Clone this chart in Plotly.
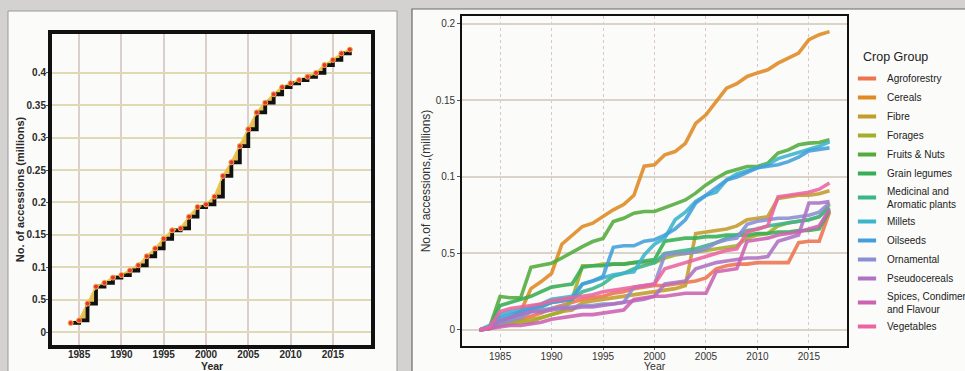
import plotly.graph_objects as go

W, H = 965, 371

# ---------------- Left panel data: total accessions (millions) ----------------
years_total = list(range(1984, 2018))
total = [0.014, 0.018, 0.044, 0.070, 0.076, 0.084, 0.088, 0.095, 0.103, 0.117,
         0.129, 0.144, 0.157, 0.160, 0.178, 0.193, 0.197, 0.209, 0.241, 0.262,
         0.287, 0.313, 0.339, 0.354, 0.367, 0.378, 0.384, 0.389, 0.394, 0.400,
         0.412, 0.420, 0.430, 0.436]
left_ticks = [0, 0.05, 0.1, 0.15, 0.2, 0.25, 0.3, 0.35, 0.4]
left_ticktext = ["0", "0.5", "0.1", "0.15", "0.2", "0.25", "0.3", "0.35", "0.4"]

# ---------------- Right panel data: by crop group ----------------
years = list(range(1983, 2018))
legend_title = "Crop Group"
x_title = "Year"
groups = ["Agroforestry", "Cereals", "Fibre", "Forages", "Fruits & Nuts", "Grain legumes",
          "Medicinal and<br>Aromatic plants", "Millets", "Oilseeds", "Ornamental",
          "Pseudocereals", "Spices, Condiments<br>and Flavour", "Vegetables"]
colors = ["#EE7450", "#DF8A22", "#C39C2C", "#A3AE2A", "#52AC3C", "#37AE55",
          "#3AB58E", "#3CB4CC", "#439FDC", "#8C8ED4", "#AD73C4", "#CC62B2", "#EC64A0"]

agroforestry = [0, 0.001, 0.003, 0.005, 0.007, 0.009, 0.011, 0.014, 0.016, 0.018, 0.020, 0.021,
                0.022, 0.024, 0.025, 0.027, 0.028, 0.029, 0.029, 0.030, 0.031, 0.032, 0.034,
                0.040, 0.042, 0.043, 0.043, 0.044, 0.044, 0.044, 0.044, 0.057, 0.058, 0.058, 0.077]
cereals = [0, 0.002, 0.005, 0.008, 0.012, 0.027, 0.0316, 0.037, 0.056, 0.062, 0.0676, 0.0698,
           0.074, 0.0785, 0.082, 0.088, 0.107, 0.108, 0.1145, 0.1166, 0.122, 0.135, 0.1406,
           0.149, 0.158, 0.161, 0.1657, 0.168, 0.170, 0.1744, 0.1777, 0.181, 0.1897, 0.193, 0.195]
fibre = [0, 0.001, 0.004, 0.005, 0.006, 0.007, 0.008, 0.010, 0.012, 0.013, 0.018, 0.019,
         0.020, 0.021, 0.022, 0.023, 0.024, 0.025, 0.026, 0.027, 0.029, 0.063, 0.064,
         0.065, 0.066, 0.068, 0.072, 0.073, 0.074, 0.086, 0.087, 0.088, 0.088, 0.089, 0.091]
forages = [0, 0.001, 0.003, 0.004, 0.005, 0.005, 0.008, 0.010, 0.012, 0.020, 0.042, 0.042,
           0.043, 0.043, 0.043, 0.044, 0.044, 0.044, 0.047, 0.049, 0.050, 0.051, 0.052,
           0.053, 0.054, 0.055, 0.060, 0.062, 0.063, 0.068, 0.070, 0.071, 0.072, 0.074, 0.082]
fruits_nuts = [0, 0.002, 0.0218, 0.021, 0.021, 0.041, 0.0423, 0.0436, 0.047, 0.051, 0.0545,
               0.0578, 0.0598, 0.0708, 0.073, 0.0763, 0.0774, 0.0774, 0.0796, 0.0824, 0.085,
               0.0894, 0.0948, 0.0992, 0.1029, 0.1046, 0.1068, 0.1068, 0.109, 0.1156, 0.1177,
               0.121, 0.1221, 0.1225, 0.1243]
grain_legumes = [0, 0.002, 0.016, 0.018, 0.020, 0.022, 0.025, 0.028, 0.029, 0.030, 0.041, 0.042,
                 0.042, 0.043, 0.043, 0.044, 0.045, 0.046, 0.058, 0.059, 0.060, 0.060, 0.061,
                 0.061, 0.062, 0.062, 0.062, 0.063, 0.063, 0.064, 0.064, 0.065, 0.065, 0.066, 0.078]
medicinal = [0, 0.001, 0.006, 0.008, 0.010, 0.013, 0.015, 0.018, 0.019, 0.020, 0.025, 0.027,
             0.030, 0.035, 0.037, 0.040, 0.042, 0.044, 0.050, 0.051, 0.052, 0.053, 0.055,
             0.057, 0.060, 0.062, 0.065, 0.066, 0.068, 0.069, 0.070, 0.071, 0.072, 0.074, 0.080]
millets = [0, 0.003, 0.010, 0.012, 0.013, 0.015, 0.017, 0.020, 0.021, 0.022, 0.030, 0.032,
           0.034, 0.036, 0.037, 0.038, 0.049, 0.056, 0.060, 0.072, 0.077, 0.084, 0.088,
           0.090, 0.098, 0.102, 0.104, 0.106, 0.108, 0.112, 0.114, 0.116, 0.118, 0.120, 0.123]
oilseeds = [0, 0.002, 0.008, 0.010, 0.012, 0.014, 0.016, 0.018, 0.019, 0.020, 0.030, 0.032,
            0.035, 0.054, 0.055, 0.055, 0.058, 0.059, 0.062, 0.066, 0.072, 0.083, 0.088,
            0.093, 0.098, 0.100, 0.103, 0.106, 0.107, 0.108, 0.110, 0.113, 0.117, 0.118, 0.119]
ornamental = [0, 0.001, 0.004, 0.006, 0.008, 0.012, 0.013, 0.014, 0.015, 0.015, 0.016, 0.016,
              0.017, 0.017, 0.018, 0.028, 0.029, 0.030, 0.049, 0.050, 0.050, 0.051, 0.053,
              0.057, 0.059, 0.060, 0.069, 0.071, 0.072, 0.073, 0.073, 0.074, 0.075, 0.077, 0.083]
pseudocereals = [0, 0.001, 0.006, 0.008, 0.010, 0.012, 0.012, 0.013, 0.014, 0.014, 0.015, 0.015,
                 0.016, 0.017, 0.018, 0.019, 0.020, 0.022, 0.030, 0.031, 0.032, 0.040, 0.042,
                 0.044, 0.045, 0.046, 0.047, 0.047, 0.048, 0.058, 0.060, 0.062, 0.083, 0.083, 0.084]
spices = [0, 0.001, 0.002, 0.003, 0.003, 0.004, 0.005, 0.007, 0.008, 0.009, 0.010, 0.010,
          0.011, 0.012, 0.013, 0.020, 0.021, 0.022, 0.022, 0.023, 0.024, 0.024, 0.024,
          0.038, 0.039, 0.040, 0.058, 0.059, 0.060, 0.062, 0.063, 0.064, 0.066, 0.068, 0.079]
vegetables = [0, 0.002, 0.012, 0.014, 0.015, 0.016, 0.017, 0.019, 0.020, 0.021, 0.022, 0.023,
              0.025, 0.026, 0.027, 0.028, 0.029, 0.030, 0.040, 0.042, 0.044, 0.046, 0.048,
              0.050, 0.052, 0.053, 0.064, 0.066, 0.068, 0.087, 0.088, 0.089, 0.090, 0.092, 0.096]
series = [agroforestry, cereals, fibre, forages, fruits_nuts, grain_legumes, medicinal,
          millets, oilseeds, ornamental, pseudocereals, spices, vegetables]
right_ticks = [0, 0.05, 0.1, 0.15, 0.2]
right_ticktext = ["0", "0.5", "0.1", "0.15", "0.2"]
year_ticks = [1985, 1990, 1995, 2000, 2005, 2010, 2015]

FONT = "Liberation Sans, Arial, sans-serif"

def px_x(p):
    return p / W

def px_y(p):
    return (H - p) / H

fig = go.Figure()

# ---- left panel ----
fig.add_trace(go.Scatter(x=years_total, y=total, mode="lines", line=dict(color="#E9C25A", width=2),
                         xaxis="x", yaxis="y", showlegend=False, hoverinfo="skip"))
fig.add_trace(go.Scatter(x=years_total, y=total, mode="lines", line=dict(color="rgba(0,0,0,0)", width=0, shape="hv"),
                         fill="tonexty", fillcolor="#E6BC58", xaxis="x", yaxis="y", showlegend=False, hoverinfo="skip"))
fig.add_trace(go.Scatter(x=years_total, y=total, mode="lines", line=dict(color="#111111", width=3.8, shape="hv"),
                         xaxis="x", yaxis="y", showlegend=False))
fig.add_trace(go.Scatter(x=years_total, y=total, mode="lines+markers",
                         line=dict(color="#F0C53A", width=1.5, dash="dot"),
                         marker=dict(color="#E8323A", size=5, line=dict(color="#F3B23A", width=1)),
                         xaxis="x", yaxis="y", showlegend=False))

# ---- right panel ----
for name, vals, col in zip(groups, series, colors):
    fig.add_trace(go.Scatter(x=years, y=vals, mode="lines", name=name,
                             line=dict(color=col, width=3.6), opacity=0.88,
                             xaxis="x2", yaxis="y2", showlegend=False, legendgroup=name))
for name, col in zip(groups, colors):
    fig.add_trace(go.Scatter(x=[None], y=[None], mode="markers", name=name, legendgroup=name,
                             marker=dict(symbol="line-ew", size=13, line=dict(color=col, width=4)),
                             xaxis="x2", yaxis="y2", showlegend=True))

shapes = [
    dict(type="rect", xref="paper", yref="paper", x0=px_x(8), x1=px_x(397), y0=-0.01, y1=px_y(11),
         fillcolor="#FBFBF9", line=dict(color="#9a9a98", width=1), layer="below"),
    dict(type="rect", xref="paper", yref="paper", x0=px_x(412), x1=1.01, y0=-0.01, y1=px_y(9),
         fillcolor="#FBFBF9", line=dict(color="#6a6a68", width=1.2), layer="below"),
]

annotations = [
    dict(text=legend_title, xref="paper", yref="paper", x=px_x(861), y=px_y(57),
         xanchor="left", yanchor="middle", showarrow=False,
         font=dict(size=12.5, family=FONT, color="#222")),
    dict(text="<b>" + x_title + "</b>", xref="paper", yref="paper", x=px_x(211.5), y=px_y(365.5),
         xanchor="center", yanchor="middle", showarrow=False,
         font=dict(size=10.5, family=FONT, color="#2a2a2a")),
    dict(text=x_title, xref="paper", yref="paper", x=px_x(654.5), y=px_y(365.5),
         xanchor="center", yanchor="middle", showarrow=False,
         font=dict(size=10.5, family=FONT, color="#333333")),
]

fig.update_layout(
    width=W, height=H,
    margin=dict(l=0, r=0, t=0, b=0, autoexpand=False),
    paper_bgcolor="#D4D2D0",
    plot_bgcolor="#FDFDFB",
    font=dict(family=FONT, color="#222222"),
    shapes=shapes,
    annotations=annotations,
    xaxis=dict(domain=[px_x(52), px_x(371)], range=[1981.8, 2019.5], tickvals=year_ticks,
               showgrid=True, gridcolor="#DCCFCB", gridwidth=2, zeroline=False,
               showline=True, linecolor="#111111", linewidth=4, mirror=True,
               ticks="outside", ticklen=2, tickcolor="#555", tickwidth=1, ticklabelstandoff=-5,
               tickfont=dict(size=10, family=FONT, color="#2a2a2a", weight="bold"),
               anchor="y"),
    yaxis=dict(domain=[px_y(345), px_y(34)], range=[-0.02, 0.46], tickvals=left_ticks, ticktext=left_ticktext,
               showgrid=True, gridcolor="#E0D9B6", gridwidth=2, zeroline=False,
               showline=True, linecolor="#111111", linewidth=4, mirror=True,
               ticks="outside", ticklen=2, tickcolor="#555", tickwidth=1, ticklabelstandoff=-2,
               tickfont=dict(size=10, family=FONT, color="#2a2a2a", weight="bold"),
               title=dict(text="No. of accessions (millions)", font=dict(size=11, family=FONT, color="#2a2a2a", weight="bold"), standoff=1),
               anchor="x"),
    xaxis2=dict(domain=[px_x(462), px_x(847)], range=[1981.3, 2018.7], tickvals=year_ticks,
                showgrid=True, gridcolor="#DCC6C9", gridwidth=1, griddash="dot", zeroline=False,
                showline=True, linecolor="#111111", linewidth=1.8, mirror=True,
                ticks="outside", ticklen=2, tickcolor="#555", tickwidth=1, ticklabelstandoff=-2,
                tickfont=dict(size=10, family=FONT, color="#333333"),
                anchor="y2"),
    yaxis2=dict(domain=[px_y(346), px_y(16)], range=[-0.0105, 0.2052], tickvals=right_ticks, ticktext=right_ticktext,
                showgrid=True, gridcolor="#DAD4C8", gridwidth=1.5, zeroline=False,
                showline=True, linecolor="#111111", linewidth=1.8, mirror=True,
                ticks="outside", ticklen=3, tickcolor="#555", tickwidth=1,
                tickfont=dict(size=10, family=FONT, color="#333333"),
                title=dict(text="No.of accessions,(millions)", font=dict(size=12, family=FONT, color="#333333"), standoff=2),
                anchor="x2"),
    legend=dict(x=px_x(847), y=px_y(64), xanchor="left", yanchor="top",
                bgcolor="rgba(0,0,0,0)", borderwidth=0,
                font=dict(size=10, family=FONT, color="#222"), itemwidth=30, tracegroupgap=0),
    showlegend=True,
)

fig.write_html("out.html", config={"displayModeBar": False},
               post_script="document.body.style.margin='0px';document.body.style.overflow='hidden';")
